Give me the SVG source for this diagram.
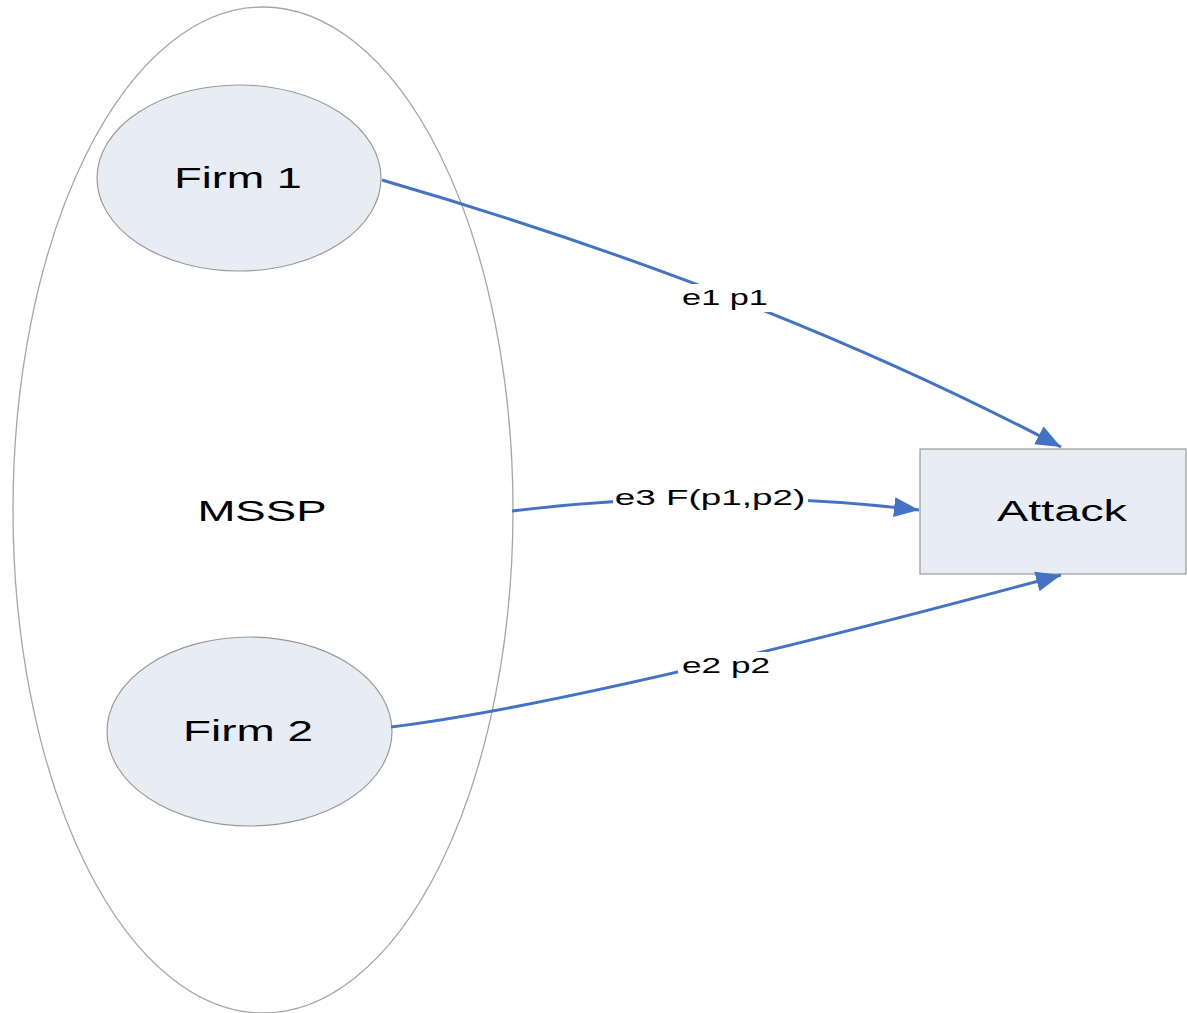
<svg xmlns="http://www.w3.org/2000/svg" width="1187" height="1013" viewBox="0 0 1187 1013">
<style>
.node{fill:#E8ECF5;stroke:#9A9A9A;stroke-width:1.2}
.big{fill:#FFFFFF;stroke:#A6A6A6;stroke-width:1.3}
.t{font-family:"Liberation Sans",Arial,sans-serif;font-size:30px;fill:#000;text-anchor:middle}
.lbl{font-family:"Liberation Sans",Arial,sans-serif;font-size:22px;fill:#000;text-anchor:middle}
.edge{fill:none;stroke:#4472C4;stroke-width:3}
.bg{fill:#FFFFFF}
</style>
<defs>
<marker id="arr" markerUnits="userSpaceOnUse" markerWidth="28" markerHeight="24" refX="25" refY="12" orient="auto">
<path d="M0,2 L25,12 L0,22 Z" fill="#4472C4"/>
</marker>
</defs>
<rect width="1187" height="1013" fill="#FFFFFF"/>
<g id="mssp">
<ellipse class="big" cx="263" cy="510" rx="250" ry="503"/>
<text class="t" transform="translate(262,521) scale(1.52,1)">MSSP</text>
</g>
<g id="firm1">
<ellipse class="node" cx="239" cy="178" rx="142" ry="93"/>
<text class="t" transform="translate(238,188) scale(1.5,1)">Firm 1</text>
</g>
<g id="firm2">
<ellipse class="node" cx="249.5" cy="731.5" rx="142.5" ry="94.5"/>
<text class="t" transform="translate(248,741) scale(1.53,1)">Firm 2</text>
</g>
<g id="attack">
<rect class="node" x="920" y="449" width="266" height="125"/>
<text class="t" transform="translate(1062,521) scale(1.56,1)">Attack</text>
</g>
<g id="connectors">
<path class="edge" d="M382,180 Q767,292 1061,447" marker-end="url(#arr)"/>
<path class="edge" d="M512,511 Q716,486 919,510" marker-end="url(#arr)"/>
<path class="edge" d="M391,727 Q586,703 1061,575" marker-end="url(#arr)"/>
<rect class="bg" x="678" y="284" width="94" height="28"/>
<text class="lbl" transform="translate(725,305) scale(1.56,1)">e1 p1</text>
<rect class="bg" x="613" y="484" width="195" height="28"/>
<text class="lbl" transform="translate(710,505) scale(1.6,1)" textLength="119" lengthAdjust="spacingAndGlyphs">e3 F(p1,p2)</text>
<rect class="bg" x="678" y="652" width="95" height="28"/>
<text class="lbl" transform="translate(726,673) scale(1.6,1)">e2 p2</text>
</g>
</svg>
